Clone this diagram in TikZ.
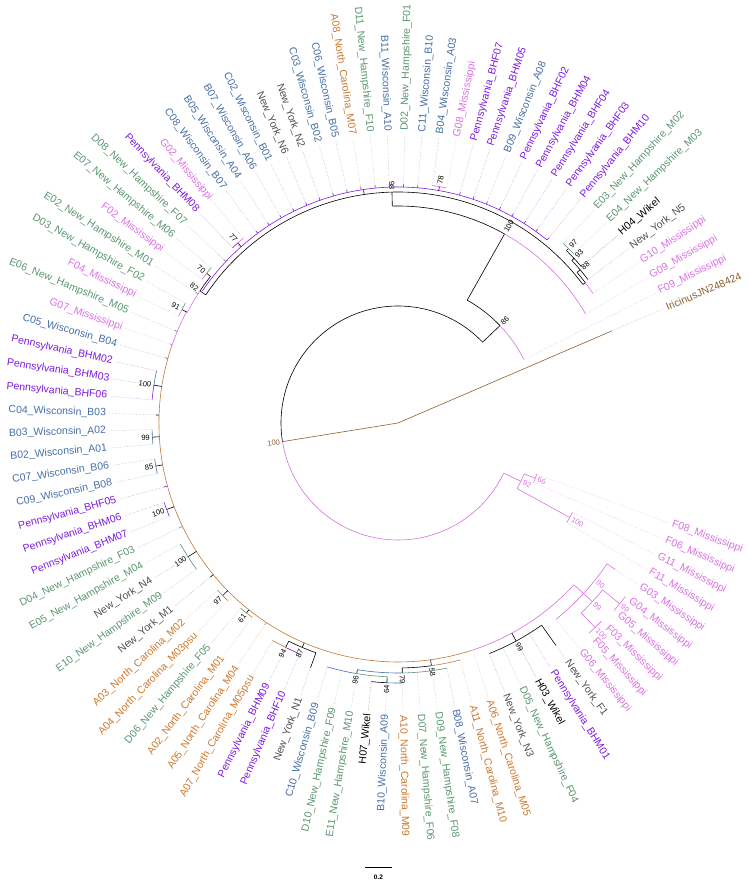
\documentclass[tikz,border=0pt]{standalone}
\usepackage{fontspec}
\setmainfont{Liberation Sans}
\definecolor{penn}{RGB}{125,25,225}
\definecolor{miss}{RGB}{218,112,226}
\definecolor{wisc}{RGB}{70,110,165}
\definecolor{nh}{RGB}{90,150,112}
\definecolor{nc}{RGB}{205,120,45}
\definecolor{ny}{RGB}{80,80,80}
\definecolor{wik}{RGB}{0,0,0}
\definecolor{iric}{RGB}{140,95,45}
\definecolor{brn}{RGB}{190,120,55}
\tikzset{
 lbl/.style={font=\fontsize{10.5}{12}\selectfont,inner sep=0pt},
 bsl/.style={font=\fontsize{7.5}{9}\selectfont,inner sep=0.5pt},
 br/.style={line width=0.6pt},
 ldr/.style={densely dotted,line width=0.4pt},
}
\newcommand\rlab{292}
\newcommand\LA[1]{\fpeval{23.3+3.44*(#1-1)}}
\newcommand\lf[4]{%
 \pgfmathsetmacro\la{23.3+3.44*(#1-1)}%
 \pgfmathtruncatemacro\sd{and(\la>90,\la<270)}%
 \draw[ldr,#2!60] (\la:#3) -- (\la:289);%
 \ifnum\sd=1
  \node[lbl,text=#2,anchor=east,rotate=\la-180] (L#1) at (\la:\rlab) {#4};%
 \else
  \node[lbl,text=#2,anchor=west,rotate=\la] (L#1) at (\la:\rlab) {#4};%
 \fi}
\newcommand\ar[4][black]{\draw[br,#1] (#2:#4) arc[start angle=#2,end angle=#3,radius=#4pt];}
\newcommand\rd[4][black]{\draw[br,#1] (#2:#3) -- (#2:#4);}
\newcommand\bv[4][black]{%
 \pgfmathtruncatemacro\sd{and(#2>90,#2<270)}%
 \ifnum\sd=1 \node[bsl,text=#1,anchor=east,rotate=#2-180] at (#2:#3) {#4};%
 \else \node[bsl,text=#1,anchor=west,rotate=#2] at (#2:#3) {#4};\fi}
\begin{document}
\begin{tikzpicture}[x=1pt,y=1pt]
\useasboundingbox (0,0) rectangle (748,883);
\begin{scope}[shift={(398,460)}]
% root and outgroup
\coordinate (O) at (0,0);
\draw[br,iric] (O) -- (23.3:233);
\draw[br,iric] (O) -- (189.16:117);
\ar{43.7}{189.16}{117}
\ar[miss]{189.16}{334.62}{117}
\bv[iric]{189.16}{119}{100}
% node 86
\rd{43.7}{117}{141}
\ar[miss]{\LA{2}}{43.7}{141}
\ar{43.7}{60.6}{141}
\bv{43.7}{143}{86}
% node 100 (A1)
\rd{60.6}{141}{217}
\ar[miss]{\LA{3}}{60.6}{217}
\ar{60.6}{91.5}{217}
\bv{60.6}{219}{100}
% node 98
\rd{91.5}{217}{231}
\ar{36.85}{146.3}{231}
\bv{91.5}{233}{98}
% small clade
\rd{36.85}{231}{234}
\ar[miss]{\LA{4}}{36.85}{234}
\ar{36.85}{40.07}{234}
\rd{40.07}{234}{238}
\ar{\LA{5}}{43.08}{238}
\bv{40.07}{240}{88}
\rd{43.08}{238}{241}
\ar{\LA{6}}{45.66}{241}
\bv{43.08}{243}{93}
\rd{45.66}{241}{244}
\ar[nh]{\LA{7}}{\LA{8}}{244}
\bv{45.66}{246}{97}
% purple polytomy
\rd{98.4}{231}{236}
\ar[penn]{\LA{9}}{146}{236}
\foreach \i in {9,...,16,19,20,21,22,23,24,25,26,27,28,29,30,31}{\rd[penn]{\LA{\i}}{236}{239}}
\rd[nh]{\LA{34}}{236}{239}
\rd{80.06}{236}{240}
\ar[miss]{\LA{17}}{\LA{18}}{240}
\bv{80.06}{242}{78}
\rd{131.66}{236}{241}
\ar[miss]{\LA{32}}{131.66}{241}
\ar[penn]{131.66}{\LA{33}}{241}
\bv{131.66}{243}{77}
% node 82 and 70
\rd{146.3}{231}{238}
\ar{141.98}{146.3}{238}
\ar[miss]{146.3}{152.3}{238}
\bv{146.3}{240}{82}
\rd{141.98}{238}{243}
\ar[nh]{\LA{35}}{141.98}{243}
\ar[miss]{141.98}{\LA{36}}{243}
\bv{141.98}{245}{70}
\rd[nh]{\LA{37}}{238}{241}
\rd{152.3}{238}{244}
\ar[nh]{\LA{38}}{152.3}{244}
\ar[miss]{152.3}{\LA{39}}{244}
\bv{152.3}{246}{91}
% left ring
\ar[miss]{152.3}{161}{239}
\ar[brn]{161}{287.7}{239}
\ar[miss]{287.7}{317.4}{239}
\rd[nh]{\LA{40}}{239}{242}
\rd[miss]{\LA{41}}{239}{242}
\rd[wisc]{\LA{42}}{239}{242}
\rd{171.2}{239}{247}
\ar[wisc]{\LA{43}}{171.2}{247}
\ar[penn]{171.2}{\LA{45}}{247}
\bv{171.2}{249}{100}
\rd{\LA{46}}{239}{242}
\rd{183.3}{239}{246}
\ar[wisc]{\LA{47}}{\LA{48}}{246}
\bv{183.3}{248}{99}
\rd{190.1}{239}{246}
\ar[wisc]{\LA{49}}{\LA{50}}{246}
\bv{190.1}{248}{85}
\rd[penn]{\LA{51}}{239}{243}
\rd{200.5}{239}{247}
\ar[penn]{\LA{52}}{\LA{53}}{247}
\bv{200.5}{249}{100}
\rd[nh]{\LA{54}}{239}{243}
\rd{212.5}{239}{249}
\ar[nh]{\LA{55}}{\LA{57}}{249}
\bv{212.5}{251}{100}
\rd{\LA{58}}{239}{243}
\rd{224.55}{239}{246}
\ar[nc]{\LA{59}}{\LA{60}}{246}
\bv{224.55}{248}{97}
\rd{231.4}{239}{243}
\ar[nh]{\LA{61}}{231.4}{243}
\ar[nc]{231.4}{\LA{62}}{243}
\bv{231.4}{245}{61}
\rd[nc]{\LA{63}}{239}{242}
% 87 / 94
\rd{246.9}{239}{244}
\ar{243.4}{250.4}{244}
\bv{246.9}{246}{87}
\rd{243.4}{244}{251}
\ar[nc]{\LA{64}}{243.4}{251}
\ar[penn]{243.4}{\LA{66}}{251}
\bv{243.4}{253}{94}
\rd{\LA{67}}{244}{260}
% bottom clade
\rd{277.84}{239}{245}
\ar{270.98}{277.84}{245}
\ar[nc]{277.84}{\LA{77}}{245}
\bv{277.84}{247}{58}
\rd{270.98}{245}{250}
\ar[wisc]{260.65}{270.98}{250}
\ar[nh]{270.98}{\LA{76}}{250}
\bv{270.98}{252}{79}
\rd{260.65}{250}{254}
\ar[wisc]{\LA{68}}{260.65}{254}
\ar[nh]{260.65}{267.55}{254}
\bv{260.65}{256}{96}
\rd{267.55}{254}{260}
\ar{\LA{71}}{267.55}{260}
\ar[wisc]{267.55}{\LA{73}}{260}
\bv{267.55}{262}{64}
% black clade lower right
\rd{298.45}{239}{248}
\ar{\LA{79}}{\LA{83}}{248}
\bv{298.45}{250}{99}
\rd{\LA{83}}{248}{273}
% mississippi clade
\rd[miss]{317.4}{239}{252}
\ar[miss]{\LA{84}}{\LA{89}}{252}
\bv[miss]{321.5}{254}{90}
\rd[miss]{317.4}{252}{264}
\ar[miss]{313.95}{320.8}{264}
\bv[miss]{317.4}{266}{99}
\rd[miss]{313.95}{264}{284}
\ar[miss]{\LA{85}}{\LA{86}}{284}
\bv[miss]{313.95}{286}{100}
\rd[miss]{320.8}{264}{286}
\ar[miss]{\LA{87}}{\LA{88}}{286}
\bv[miss]{320.8}{288}{99}
\rd[miss]{\LA{89}}{252}{262}
% node 92 clade
\rd[miss]{334.62}{117}{136}
\ar[miss]{331.18}{338.06}{136}
\bv[miss]{334.62}{138}{92}
\rd[miss]{338.06}{136}{148}
\ar[miss]{\LA{92}}{\LA{93}}{148}
\bv[miss]{338.06}{150}{66}
\rd[miss]{331.18}{136}{196}
\ar[miss]{\LA{90}}{\LA{91}}{196}
\bv[miss]{331.18}{198}{100}
% leaves
\lf{1}{iric}{233}{IricinusJN248424}
\lf{2}{miss}{141}{F09\_Mississippi}
\lf{3}{miss}{217}{G09\_Mississippi}
\lf{4}{miss}{234}{G10\_Mississippi}
\lf{5}{ny}{238}{New\_York\_N5}
\lf{6}{wik}{241}{H04\_Wikel}
\lf{7}{nh}{244}{E04\_New\_Hampshire\_M03}
\lf{8}{nh}{244}{E03\_New\_Hampshire\_M02}
\lf{9}{penn}{239}{Pennsylvania\_BHM10}
\lf{10}{penn}{239}{Pennsylvania\_BHF03}
\lf{11}{penn}{239}{Pennsylvania\_BHF04}
\lf{12}{penn}{239}{Pennsylvania\_BHM04}
\lf{13}{penn}{239}{Pennsylvania\_BHF02}
\lf{14}{wisc}{239}{B09\_Wisconsin\_A08}
\lf{15}{penn}{239}{Pennsylvania\_BHM05}
\lf{16}{penn}{239}{Pennsylvania\_BHF07}
\lf{17}{miss}{240}{G08\_Mississippi}
\lf{18}{wisc}{240}{B04\_Wisconsin\_A03}
\lf{19}{wisc}{239}{C11\_Wisconsin\_B10}
\lf{20}{nh}{239}{D02\_New\_Hampshire\_F01}
\lf{21}{wisc}{239}{B11\_Wisconsin\_A10}
\lf{22}{nh}{239}{D11\_New\_Hampshire\_F10}
\lf{23}{nc}{239}{A08\_North\_Carolina\_M07}
\lf{24}{wisc}{239}{C06\_Wisconsin\_B05}
\lf{25}{wisc}{239}{C03\_Wisconsin\_B02}
\lf{26}{ny}{239}{New\_York\_N2}
\lf{27}{ny}{239}{New\_York\_N6}
\lf{28}{wisc}{239}{C02\_Wisconsin\_B01}
\lf{29}{wisc}{239}{B07\_Wisconsin\_A06}
\lf{30}{wisc}{239}{B05\_Wisconsin\_A04}
\lf{31}{wisc}{239}{C08\_Wisconsin\_B07}
\lf{32}{miss}{241}{G02\_Mississippi}
\lf{33}{penn}{241}{Pennsylvania\_BHM08}
\lf{34}{nh}{239}{D08\_New\_Hampshire\_F07}
\lf{35}{nh}{243}{E07\_New\_Hampshire\_M06}
\lf{36}{miss}{243}{F02\_Mississippi}
\lf{37}{nh}{241}{E02\_New\_Hampshire\_M01}
\lf{38}{nh}{244}{D03\_New\_Hampshire\_F02}
\lf{39}{miss}{244}{F04\_Mississippi}
\lf{40}{nh}{242}{E06\_New\_Hampshire\_M05}
\lf{41}{miss}{242}{G07\_Mississippi}
\lf{42}{wisc}{242}{C05\_Wisconsin\_B04}
\lf{43}{penn}{247}{Pennsylvania\_BHM02}
\lf{44}{penn}{247}{Pennsylvania\_BHM03}
\lf{45}{penn}{247}{Pennsylvania\_BHF06}
\lf{46}{wisc}{242}{C04\_Wisconsin\_B03}
\lf{47}{wisc}{246}{B03\_Wisconsin\_A02}
\lf{48}{wisc}{246}{B02\_Wisconsin\_A01}
\lf{49}{wisc}{246}{C07\_Wisconsin\_B06}
\lf{50}{wisc}{246}{C09\_Wisconsin\_B08}
\lf{51}{penn}{243}{Pennsylvania\_BHF05}
\lf{52}{penn}{247}{Pennsylvania\_BHM06}
\lf{53}{penn}{247}{Pennsylvania\_BHM07}
\lf{54}{nh}{243}{D04\_New\_Hampshire\_F03}
\lf{55}{nh}{249}{E05\_New\_Hampshire\_M04}
\lf{56}{ny}{249}{New\_York\_N4}
\lf{57}{nh}{249}{E10\_New\_Hampshire\_M09}
\lf{58}{ny}{243}{New\_York\_M1}
\lf{59}{nc}{246}{A03\_North\_Carolina\_M02}
\lf{60}{nc}{246}{A04\_North\_Carolina\_M03psu}
\lf{61}{nh}{243}{D06\_New\_Hampshire\_F05}
\lf{62}{nc}{243}{A02\_North\_Carolina\_M01}
\lf{63}{nc}{242}{A05\_North\_Carolina\_M04}
\lf{64}{nc}{251}{A07\_North\_Carolina\_M05psu}
\lf{65}{penn}{251}{Pennsylvania\_BHM09}
\lf{66}{penn}{251}{Pennsylvania\_BHF10}
\lf{67}{ny}{260}{New\_York\_N1}
\lf{68}{wisc}{254}{C10\_Wisconsin\_B09}
\lf{69}{nh}{254}{D10\_New\_Hampshire\_F09}
\lf{70}{nh}{254}{E11\_New\_Hampshire\_M10}
\lf{71}{wik}{260}{H07\_Wikel}
\lf{72}{wisc}{260}{B10\_Wisconsin\_A09}
\lf{73}{nc}{260}{A10\_North\_Carolina\_M09}
\lf{74}{nh}{250}{D07\_New\_Hampshire\_F06}
\lf{75}{nh}{250}{D09\_New\_Hampshire\_F08}
\lf{76}{wisc}{250}{B08\_Wisconsin\_A07}
\lf{77}{nc}{245}{A11\_North\_Carolina\_M10}
\lf{78}{nc}{239}{A06\_North\_Carolina\_M05}
\lf{79}{ny}{248}{New\_York\_N3}
\lf{80}{nh}{248}{D05\_New\_Hampshire\_F04}
\lf{81}{wik}{248}{H03\_Wikel}
\lf{82}{penn}{248}{Pennsylvania\_BHM01}
\lf{83}{ny}{273}{New\_York\_F1}
\lf{84}{miss}{252}{G06\_Mississippi}
\lf{85}{miss}{284}{F05\_Mississippi}
\lf{86}{miss}{284}{F03\_Mississippi}
\lf{87}{miss}{286}{G05\_Mississippi}
\lf{88}{miss}{286}{G04\_Mississippi}
\lf{89}{miss}{262}{G03\_Mississippi}
\lf{90}{miss}{196}{F11\_Mississippi}
\lf{91}{miss}{196}{G11\_Mississippi}
\lf{92}{miss}{148}{F06\_Mississippi}
\lf{93}{miss}{148}{F08\_Mississippi}
\end{scope}
% scale bar
\coordinate (sb1) at (365,16);
\coordinate (sb2) at (392,16);
\draw[line width=0.8pt] (sb1) -- (sb2);
\node[font=\fontsize{6.5}{8}\selectfont\bfseries,inner sep=0pt] (sbl) at (378.5,6) {0.2};
\end{tikzpicture}
\end{document}
